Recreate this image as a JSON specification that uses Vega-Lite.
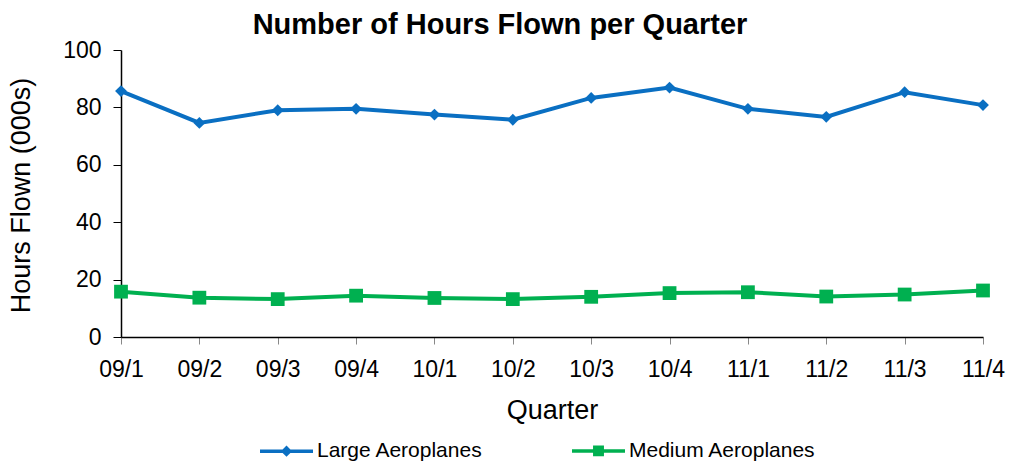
{
  "$schema": "https://vega.github.io/schema/vega-lite/v6.json",
  "width": 862,
  "height": 287,
  "autosize": "none",
  "padding": {"left": 121, "top": 50, "right": 28, "bottom": 127},
  "background": "white",
  "title": {
    "text": "Number of Hours Flown per Quarter",
    "font": "Liberation Sans",
    "fontSize": 29,
    "fontWeight": "bold",
    "color": "black",
    "anchor": "middle",
    "dx": -52,
    "dy": 36,
    "baseline": "alphabetic",
    "offset": 12
  },
  "data": {
    "values": [
      {"q": "09/1", "series": "Large Aeroplanes", "value": 85.7},
      {"q": "09/2", "series": "Large Aeroplanes", "value": 74.6},
      {"q": "09/3", "series": "Large Aeroplanes", "value": 79.0},
      {"q": "09/4", "series": "Large Aeroplanes", "value": 79.5},
      {"q": "10/1", "series": "Large Aeroplanes", "value": 77.5},
      {"q": "10/2", "series": "Large Aeroplanes", "value": 75.7},
      {"q": "10/3", "series": "Large Aeroplanes", "value": 83.3},
      {"q": "10/4", "series": "Large Aeroplanes", "value": 86.9},
      {"q": "11/1", "series": "Large Aeroplanes", "value": 79.5},
      {"q": "11/2", "series": "Large Aeroplanes", "value": 76.7},
      {"q": "11/3", "series": "Large Aeroplanes", "value": 85.3},
      {"q": "11/4", "series": "Large Aeroplanes", "value": 80.8},
      {"q": "09/1", "series": "Medium Aeroplanes", "value": 15.8},
      {"q": "09/2", "series": "Medium Aeroplanes", "value": 13.7},
      {"q": "09/3", "series": "Medium Aeroplanes", "value": 13.2},
      {"q": "09/4", "series": "Medium Aeroplanes", "value": 14.4},
      {"q": "10/1", "series": "Medium Aeroplanes", "value": 13.6},
      {"q": "10/2", "series": "Medium Aeroplanes", "value": 13.2},
      {"q": "10/3", "series": "Medium Aeroplanes", "value": 14.0},
      {"q": "10/4", "series": "Medium Aeroplanes", "value": 15.3},
      {"q": "11/1", "series": "Medium Aeroplanes", "value": 15.6},
      {"q": "11/2", "series": "Medium Aeroplanes", "value": 14.1},
      {"q": "11/3", "series": "Medium Aeroplanes", "value": 14.8},
      {"q": "11/4", "series": "Medium Aeroplanes", "value": 16.2}
    ]
  },
  "encoding": {
    "x": {
      "field": "q",
      "type": "ordinal",
      "scale": {"type": "point", "padding": 0},
      "axis": {
        "title": "Quarter",
        "titleFont": "Liberation Sans",
        "titleFontSize": 27,
        "titleFontWeight": "normal",
        "titleColor": "black",
        "titleBaseline": "alphabetic",
        "titleY": 81,
        "labelFont": "Liberation Sans",
        "labelFontSize": 23,
        "labelColor": "black",
        "labelAngle": 0,
        "labelPadding": 14,
        "tickSize": 7,
        "tickColor": "#888888",
        "domainColor": "black",
        "domainWidth": 1.5,
        "grid": false
      }
    },
    "y": {
      "field": "value",
      "type": "quantitative",
      "scale": {"domain": [0, 100], "nice": false},
      "axis": {
        "title": "Hours Flown (000s)",
        "titleFont": "Liberation Sans",
        "titleFontSize": 27,
        "titleFontWeight": "normal",
        "titleColor": "black",
        "titleBaseline": "alphabetic",
        "titleX": -92,
        "titleY": 145,
        "titleAngle": -90,
        "values": [0, 20, 40, 60, 80, 100],
        "labelFont": "Liberation Sans",
        "labelFontSize": 23,
        "labelColor": "black",
        "labelPadding": 12,
        "tickSize": 8,
        "tickColor": "black",
        "domainColor": "black",
        "domainWidth": 1.5,
        "grid": false
      }
    },
    "color": {
      "field": "series",
      "type": "nominal",
      "scale": {"domain": ["Large Aeroplanes", "Medium Aeroplanes"], "range": ["#0A6FC2", "#00B050"]},
      "legend": {
        "title": null,
        "orient": "none",
        "direction": "horizontal",
        "legendX": 137,
        "legendY": 372,
        "labelFont": "Liberation Sans",
        "labelFontSize": 21,
        "labelColor": "black",
        "labelLimit": 500,
        "labelOffset": 2,
        "columnPadding": 82,
        "symbolSize": 2809,
        "symbolStrokeWidth": 3.5,
        "encode": {
          "symbols": {
            "update": {
              "shape": {"signal": "datum.value === 'Large Aeroplanes' ? 'M-1,0H1M0,-0.12L0.12,0L0,0.12L-0.12,0Z' : 'M-1,0H1M-0.14,-0.14H0.14V0.14H-0.14Z'"},
              "fill": {"scale": "color", "field": "value"},
              "stroke": {"scale": "color", "field": "value"},
              "fillOpacity": {"value": 1},
              "strokeOpacity": {"value": 1},
              "opacity": {"value": 1}
            }
          }
        }
      }
    }
  },
  "layer": [
    {
      "mark": {"type": "line", "strokeWidth": 4}
    },
    {
      "transform": [{"filter": "datum.series === 'Large Aeroplanes'"}],
      "mark": {"type": "point", "filled": true, "opacity": 1, "shape": "diamond", "size": 140}
    },
    {
      "transform": [{"filter": "datum.series === 'Medium Aeroplanes'"}],
      "mark": {"type": "point", "filled": true, "opacity": 1, "shape": "square", "size": 190}
    }
  ],
  "config": {
    "view": {"stroke": null},
    "font": "Liberation Sans"
  }
}
